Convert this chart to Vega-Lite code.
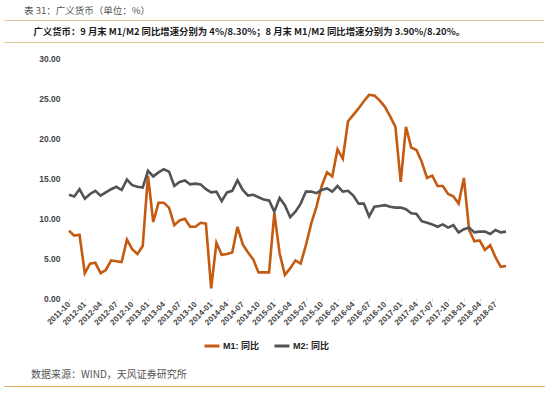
{
  "$schema": "https://vega.github.io/schema/vega-lite/v6.json",
  "padding": {"left": 3, "top": 6, "right": 5, "bottom": 5},
  "spacing": 12,
  "columns": 1,
  "background": "#ffffff",
  "resolve": {"scale": {"color": "independent"}, "legend": {"color": "independent"}},
  "config": {"view": {"stroke": null}, "font": "Noto Sans CJK SC"},
  "concat": [
    {
      "width": 540,
      "height": 22,
      "title": {
        "text": "表 31：广义货币（单位：%）",
        "subtitle": "\u200b\u3000广义货币：9 月末 M1/M2 同比增速分别为 4%/8.30%；8 月末 M1/M2 同比增速分别为 3.90%/8.20%。",
        "anchor": "start", "dx": 20, "offset": -16,
        "font": "Noto Sans CJK SC", "fontSize": 9.5, "fontWeight": "normal", "color": "#555555",
        "subtitleFont": "Noto Sans CJK SC", "subtitleFontSize": 9.4, "subtitleFontWeight": "bold", "subtitleColor": "#1a1a1a",
        "subtitlePadding": 12
      },
      "data": {"values": []},
      "mark": "rule",
      "encoding": {
        "y": {
          "datum": 0, "type": "quantitative",
          "scale": {"domain": [0, 1]},
          "axis": {"values": [0, 1], "grid": true, "gridColor": "#dcc395", "gridWidth": 1, "gridOpacity": 1, "labels": false, "ticks": false, "domain": false, "title": null}
        }
      }
    },
    {
      "width": 504,
      "height": 240,
      "layer": [
        {
          "data": {"values": [
            {"d":"2011-10","M1":8.4,"M2":12.9},{"d":"2011-11","M1":7.8,"M2":12.7},{"d":"2011-12","M1":7.9,"M2":13.6},
            {"d":"2012-01","M1":3.1,"M2":12.4},{"d":"2012-02","M1":4.3,"M2":13.0},{"d":"2012-03","M1":4.4,"M2":13.4},
            {"d":"2012-04","M1":3.1,"M2":12.8},{"d":"2012-05","M1":3.5,"M2":13.2},{"d":"2012-06","M1":4.7,"M2":13.6},
            {"d":"2012-07","M1":4.6,"M2":13.9},{"d":"2012-08","M1":4.5,"M2":13.5},{"d":"2012-09","M1":7.3,"M2":14.8},
            {"d":"2012-10","M1":6.1,"M2":14.1},{"d":"2012-11","M1":5.5,"M2":13.9},{"d":"2012-12","M1":6.5,"M2":13.8},
            {"d":"2013-01","M1":15.3,"M2":15.9},{"d":"2013-02","M1":9.5,"M2":15.2},{"d":"2013-03","M1":11.9,"M2":15.7},
            {"d":"2013-04","M1":11.9,"M2":16.1},{"d":"2013-05","M1":11.3,"M2":15.8},{"d":"2013-06","M1":9.1,"M2":14.0},
            {"d":"2013-07","M1":9.7,"M2":14.5},{"d":"2013-08","M1":9.9,"M2":14.7},{"d":"2013-09","M1":8.9,"M2":14.2},
            {"d":"2013-10","M1":8.9,"M2":14.3},{"d":"2013-11","M1":9.4,"M2":14.2},{"d":"2013-12","M1":9.3,"M2":13.6},
            {"d":"2014-01","M1":1.2,"M2":13.2},{"d":"2014-02","M1":6.9,"M2":13.3},{"d":"2014-03","M1":5.4,"M2":12.1},
            {"d":"2014-04","M1":5.5,"M2":13.2},{"d":"2014-05","M1":5.7,"M2":13.4},{"d":"2014-06","M1":8.9,"M2":14.7},
            {"d":"2014-07","M1":6.7,"M2":13.5},{"d":"2014-08","M1":5.7,"M2":12.8},{"d":"2014-09","M1":4.8,"M2":12.9},
            {"d":"2014-10","M1":3.2,"M2":12.6},{"d":"2014-11","M1":3.2,"M2":12.3},{"d":"2014-12","M1":3.2,"M2":12.2},
            {"d":"2015-01","M1":10.6,"M2":10.8},{"d":"2015-02","M1":5.6,"M2":12.5},{"d":"2015-03","M1":2.9,"M2":11.6},
            {"d":"2015-04","M1":3.7,"M2":10.1},{"d":"2015-05","M1":4.7,"M2":10.8},{"d":"2015-06","M1":4.3,"M2":11.8},
            {"d":"2015-07","M1":6.6,"M2":13.3},{"d":"2015-08","M1":9.3,"M2":13.3},{"d":"2015-09","M1":11.4,"M2":13.1},
            {"d":"2015-10","M1":14.0,"M2":13.5},{"d":"2015-11","M1":15.7,"M2":13.7},{"d":"2015-12","M1":15.2,"M2":13.3},
            {"d":"2016-01","M1":18.6,"M2":14.0},{"d":"2016-02","M1":17.4,"M2":13.3},{"d":"2016-03","M1":22.1,"M2":13.4},
            {"d":"2016-04","M1":22.9,"M2":12.8},{"d":"2016-05","M1":23.7,"M2":11.8},{"d":"2016-06","M1":24.6,"M2":11.8},
            {"d":"2016-07","M1":25.4,"M2":10.2},{"d":"2016-08","M1":25.3,"M2":11.4},{"d":"2016-09","M1":24.7,"M2":11.5},
            {"d":"2016-10","M1":23.9,"M2":11.6},{"d":"2016-11","M1":22.7,"M2":11.4},{"d":"2016-12","M1":21.4,"M2":11.3},
            {"d":"2017-01","M1":14.5,"M2":11.3},{"d":"2017-02","M1":21.4,"M2":11.1},{"d":"2017-03","M1":18.8,"M2":10.6},
            {"d":"2017-04","M1":18.5,"M2":10.5},{"d":"2017-05","M1":17.0,"M2":9.6},{"d":"2017-06","M1":15.0,"M2":9.4},
            {"d":"2017-07","M1":15.3,"M2":9.2},{"d":"2017-08","M1":14.0,"M2":8.9},{"d":"2017-09","M1":14.0,"M2":9.2},
            {"d":"2017-10","M1":13.0,"M2":8.8},{"d":"2017-11","M1":12.7,"M2":9.1},{"d":"2017-12","M1":11.8,"M2":8.2},
            {"d":"2018-01","M1":15.0,"M2":8.6},{"d":"2018-02","M1":8.5,"M2":8.8},{"d":"2018-03","M1":7.1,"M2":8.2},
            {"d":"2018-04","M1":7.2,"M2":8.3},{"d":"2018-05","M1":6.0,"M2":8.3},{"d":"2018-06","M1":6.6,"M2":8.0},
            {"d":"2018-07","M1":5.1,"M2":8.5},{"d":"2018-08","M1":3.9,"M2":8.2},{"d":"2018-09","M1":4.0,"M2":8.3}
          ]},
          "transform": [{"fold": ["M1", "M2"], "as": ["s", "v"]}],
          "mark": {"type": "line", "strokeWidth": 2.6, "strokeJoin": "miter"},
          "encoding": {
            "x": {"field": "d", "type": "ordinal", "sort": null},
            "y": {"field": "v", "type": "quantitative"},
            "color": {
              "field": "s", "type": "nominal",
              "scale": {"domain": ["M1", "M2"], "range": ["#c55a11", "#505357"]},
              "legend": {
                "orient": "none", "legendX": 194, "legendY": 274, "padding": 5, "direction": "horizontal",
                "title": null, "symbolType": "stroke", "symbolStrokeWidth": 3, "symbolSize": 225,
                "labelExpr": "datum.label + ': 同比'",
                "labelFont": "Liberation Sans, Noto Sans CJK SC", "labelFontSize": 9, "labelFontWeight": "bold", "labelColor": "#222222",
                "columnPadding": 8, "labelOffset": 2
              }
            }
          }
        },
        {
          "data": {"values": [{}]},
          "mark": {"type": "rule", "color": "#d9d9d9", "strokeWidth": 1},
          "encoding": {
            "x": {"datum": "2011-10", "type": "ordinal"},
            "x2": {"datum": "2018-09"},
            "y": {"datum": 0, "type": "quantitative"}
          }
        }
      ],
      "encoding": {
        "x": {
          "field": "d", "type": "ordinal", "sort": null,
          "scale": {"type": "point", "padding": 0, "range": [65, 502]},
          "axis": {
            "values": ["2011-10","2012-01","2012-04","2012-07","2012-10","2013-01","2013-04","2013-07","2013-10","2014-01","2014-04","2014-07","2014-10","2015-01","2015-04","2015-07","2015-10","2016-01","2016-04","2016-07","2016-10","2017-01","2017-04","2017-07","2017-10","2018-01","2018-04","2018-07"],
            "labelAngle": -45, "labelAlign": "right", "labelBaseline": "middle",
            "labelFont": "Liberation Sans", "labelFontSize": 8, "labelFontWeight": "bold", "labelColor": "#444444",
            "labelPadding": 2, "domain": false,
            "tickColor": "#d9d9d9", "tickSize": 3,
            "grid": false, "title": null
          }
        },
        "y": {
          "field": "v", "type": "quantitative",
          "scale": {"domain": [0, 30]},
          "axis": {
            "values": [0, 5, 10, 15, 20, 25, 30], "format": ".2f", "offset": -62,
            "labelFont": "Liberation Sans", "labelFontSize": 8.5, "labelFontWeight": "bold", "labelColor": "#444444",
            "labelPadding": 6, "ticks": false, "tickSize": 0, "domain": false, "grid": false, "title": null
          }
        }
      }
    },
    {
      "width": 540,
      "height": 0.001,
      "view": {"stroke": "#d9a95e", "strokeWidth": 1},
      "title": {"text": "数据来源：WIND，天风证券研究所", "anchor": "start", "fontSize": 10, "fontWeight": "normal", "color": "#555555", "dx": 27, "offset": 6, "font": "Noto Sans CJK SC"},
      "data": {"values": []},
      "mark": "rule",
      "encoding": {}
    }
  ]
}
